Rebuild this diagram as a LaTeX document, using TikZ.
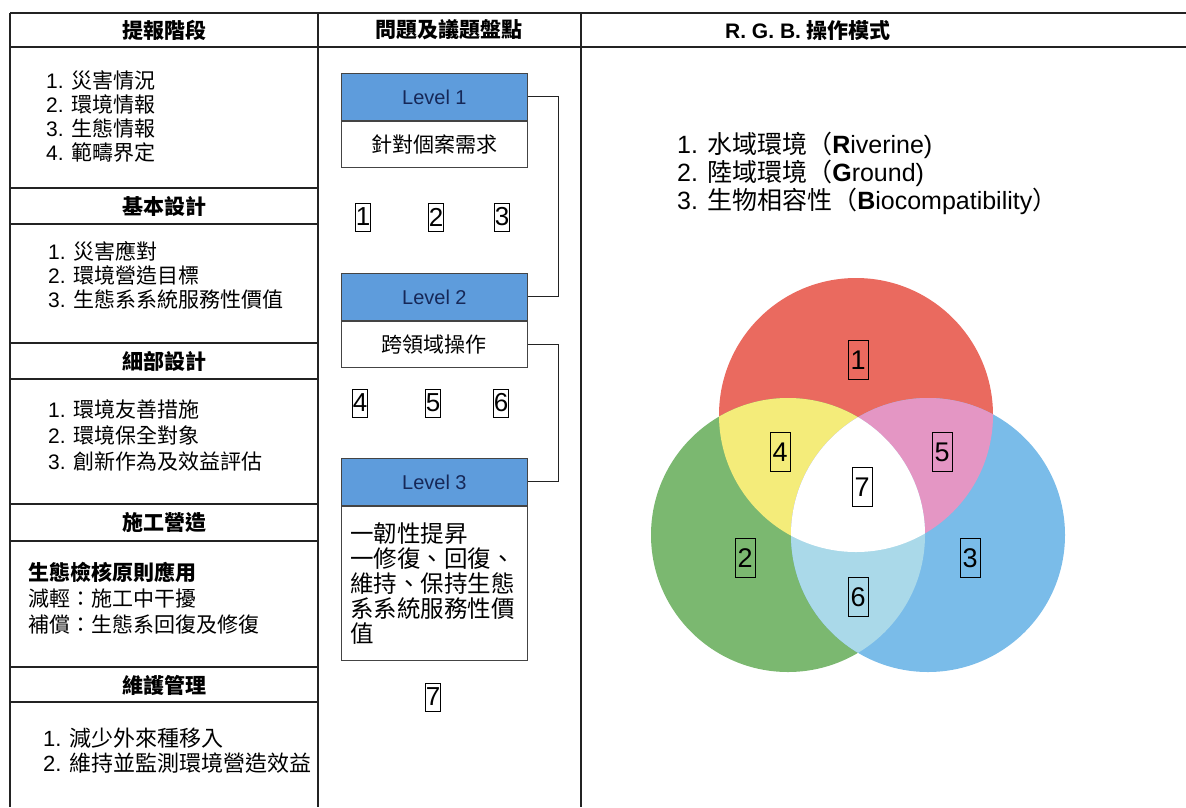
\documentclass[tikz,border=0pt]{standalone}
\usepackage{fontspec}
\setmainfont{Noto Sans CJK TC}
\newfontfamily\lat{Liberation Sans}
\usetikzlibrary{positioning}

\definecolor{rule}{RGB}{35,35,35}
\definecolor{lvblue}{RGB}{94,156,220}
\definecolor{lvtext}{RGB}{22,40,88}
\definecolor{vred}{RGB}{234,106,95}
\definecolor{vgreen}{RGB}{123,184,112}
\definecolor{vblue}{RGB}{122,188,233}
\definecolor{vyellow}{RGB}{244,236,122}
\definecolor{vpink}{RGB}{228,150,196}
\definecolor{vcyan}{RGB}{170,217,233}

\tikzset{
	grid line/.style = {
		draw = rule,
		line width = 1.2pt
	},
	head node/.style = {
		font = \fontsize{21}{24}\selectfont\bfseries
	},
	list node/.style = {
		align = left,
		anchor = west,
		inner sep = 0pt,
		font = \fontsize{21}{24}\selectfont
	},
	level head/.style = {
		rectangle,
		draw = rule!85,
		line width = 0.8pt,
		fill = lvblue,
		text = lvtext,
		minimum width = 186pt,
		minimum height = 47pt,
		anchor = north west,
		font = \lat\fontsize{20}{24}\selectfont
	},
	level body/.style = {
		level head,
		fill = white,
		text = black,
		minimum height = 46pt,
		font = \fontsize{21}{24}\selectfont
	},
	num node/.style = {
		rectangle,
		draw = black,
		line width = 0.6pt,
		inner sep = 0.5pt,
		minimum width = 15pt,
		minimum height = 28pt,
		font = \lat\fontsize{26}{26}\selectfont
	},
	venn num/.style = {
		num node,
		minimum width = 20pt,
		minimum height = 39pt,
		font = \lat\fontsize{27}{27}\selectfont
	}
}

\begin{document}
\begin{tikzpicture}[x=1pt,y=-1pt]
\useasboundingbox (0,0) rectangle (1186,807);

\draw[grid line] (10,13) -- (1186,13);
\draw[grid line] (10,47) -- (1186,47);
\foreach \x in {10,318,581}
	\draw[grid line] (\x,13) -- (\x,807);
\foreach \y in {188,224,343,379,504,541,667,702}
	\draw[grid line] (10,\y) -- (318,\y);

\node[head node] (h1) at (164,30) {提報階段};
\node[head node] (h2) at (449,30) {問題及議題盤點};
\node[head node] (h3) at (808,30) {{\lat R. G. B. }操作模式};

\node[list node] (s1) at (46,116) {{\lat 1. }災害情況\\{\lat 2. }環境情報\\{\lat 3. }生態情報\\{\lat 4. }範疇界定};
\node[head node] (h4) at (164,206) {基本設計};
\node[list node] (s2) at (48,275) {{\lat 1. }災害應對\\{\lat 2. }環境營造目標\\{\lat 3. }生態系系統服務性價值};
\node[head node] (h5) at (164,361) {細部設計};
\node[list node, font=\fontsize{21}{26}\selectfont] (s3) at (48,436) {{\lat 1. }環境友善措施\\{\lat 2. }環境保全對象\\{\lat 3. }創新作為及效益評估};
\node[head node] (h6) at (164,522) {施工營造};
\node[list node, font=\fontsize{21}{26}\selectfont] (s4) at (28,598) {\textbf{生態檢核原則應用}\\減輕：施工中干擾\\補償：生態系回復及修復};
\node[head node] (h7) at (164,685) {維護管理};
\node[list node, font=\fontsize{22}{25}\selectfont] (s5) at (43,751) {{\lat 1. }減少外來種移入\\{\lat 2. }維持並監測環境營造效益};

\node[level head] (lv1) at (341,73) {Level 1};
\node[level body] (lv1b) at (lv1.south west) {針對個案需求};
\node[level head] (lv2) at (341,273) {Level 2};
\node[level body] (lv2b) at (lv2.south west) {跨領域操作};
\node[level head] (lv3) at (341,458) {Level 3};
\node[level body, minimum height=154pt, text width=168pt, inner xsep=9pt, align=left, font=\fontsize{23.5}{25}\selectfont] (lv3b) at (lv3.south west) {一韌性提昇\\一修復、回復、\\維持、保持生態\\系系統服務性價\\值};

\draw[rule, line width=0.9pt] (lv1.east) -- ++(31,0) |- (lv2.east);
\draw[rule, line width=0.9pt] (lv2b.east) -- ++(31,0) |- (lv3.east);

\node[num node] (n1) at (363,217) {1};
\node[num node] (n2) at (436,217) {2};
\node[num node] (n3) at (502,217) {3};
\node[num node] (n4) at (360,403) {4};
\node[num node] (n5) at (433,403) {5};
\node[num node] (n6) at (501,403) {6};
\node[num node] (n7) at (433,697) {7};

\node[list node, font=\fontsize{25}{28}\selectfont] (rgb) at (677,173) {{\lat 1. }水域環境（{\lat\textbf{R}iverine)}\\{\lat 2. }陸域環境（{\lat\textbf{G}round)}\\{\lat 3. }生物相容性（{\lat\textbf{B}iocompatibility}）};

\coordinate (cR) at (856,415);
\coordinate (cG) at (788,535);
\coordinate (cB) at (928,535);
\fill[vred] (cR) circle[radius=137pt];
\fill[vgreen] (cG) circle[radius=137pt];
\fill[vblue] (cB) circle[radius=137pt];
\begin{scope}
	\clip (cR) circle[radius=137pt];
	\fill[vyellow] (cG) circle[radius=137pt];
	\fill[vpink] (cB) circle[radius=137pt];
\end{scope}
\begin{scope}
	\clip (cG) circle[radius=137pt];
	\fill[vcyan] (cB) circle[radius=137pt];
	\clip (cR) circle[radius=137pt];
	\fill[white] (cB) circle[radius=137pt];
\end{scope}

\node[venn num] (v1) at (858,360) {1};
\node[venn num] (v2) at (745,558) {2};
\node[venn num] (v3) at (970,558) {3};
\node[venn num] (v4) at (780,452) {4};
\node[venn num] (v5) at (942,452) {5};
\node[venn num] (v6) at (858,597) {6};
\node[venn num] (v7) at (862,487) {7};
\end{tikzpicture}
\end{document}
